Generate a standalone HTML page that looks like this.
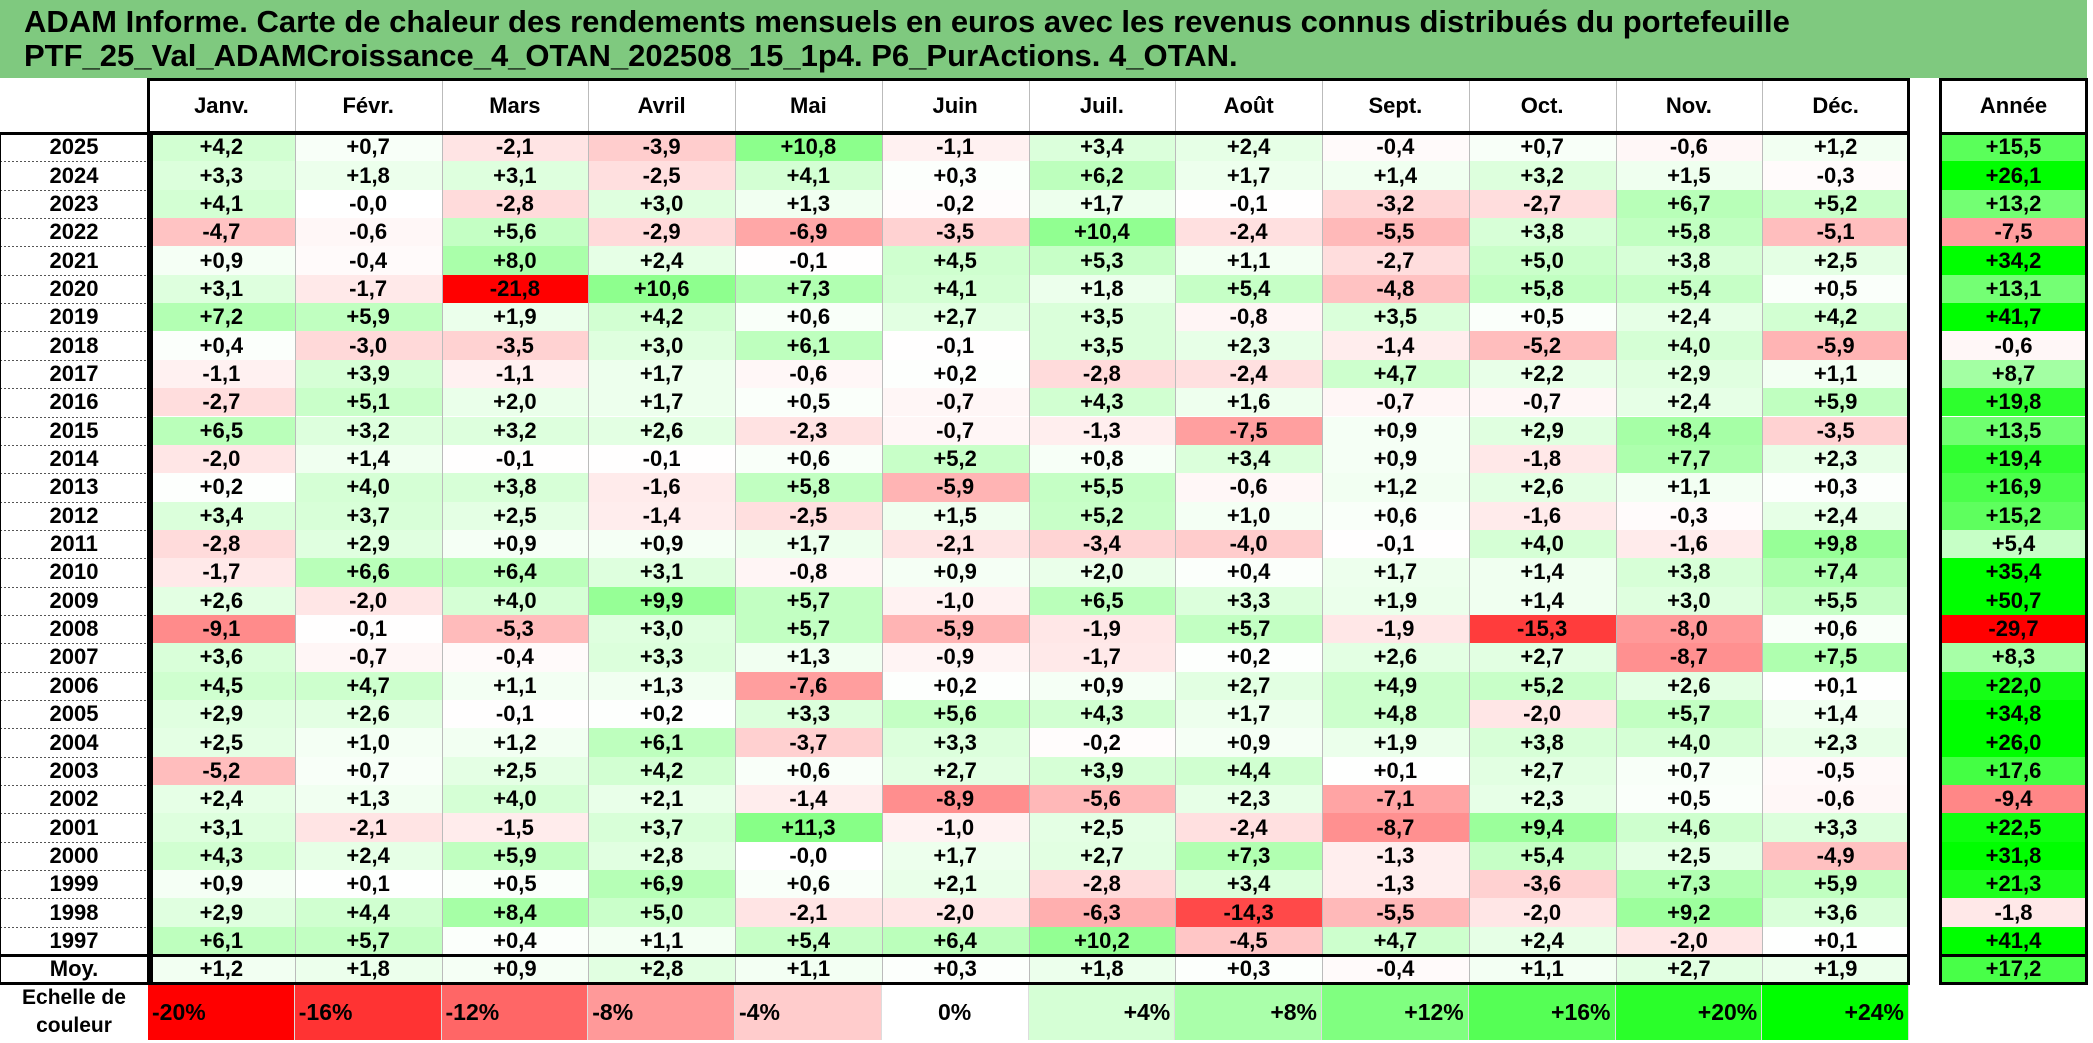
<!DOCTYPE html>
<html><head><meta charset="utf-8">
<style>
body{margin:0;width:2093px;height:1043px;background:#fff;position:relative;overflow:hidden;font-family:"Liberation Sans",sans-serif;font-weight:bold;color:#000}
.t{position:absolute;left:0;top:0;width:2087px;height:78px;background:#7fc97f;font-size:31px;line-height:34px;padding:5px 0 0 24px;box-sizing:border-box;white-space:nowrap}
.c{position:absolute;box-sizing:border-box;display:flex;align-items:center;justify-content:center;font-size:22px}
.b{position:absolute;box-sizing:border-box;border:3px solid #000;pointer-events:none}
.h{position:absolute;background:#000}
</style></head><body>
<div class="t">ADAM Informe. Carte de chaleur des rendements mensuels en euros avec les revenus connus distribués du portefeuille<br>PTF_25_Val_ADAMCroissance_4_OTAN_202508_15_1p4. P6_PurActions. 4_OTAN.</div>
<div id="g"></div>
<script>
const months=["Janv.","Févr.","Mars","Avril","Mai","Juin","Juil.","Août","Sept.","Oct.","Nov.","Déc."];
const years=["2025","2024","2023","2022","2021","2020","2019","2018","2017","2016","2015","2014","2013","2012","2011","2010","2009","2008","2007","2006","2005","2004","2003","2002","2001","2000","1999","1998","1997"];
const monthly=[
[4.2,0.7,-2.1,-3.9,10.8,-1.1,3.4,2.4,-0.4,0.7,-0.6,1.2],
[3.3,1.8,3.1,-2.5,4.1,0.3,6.2,1.7,1.4,3.2,1.5,-0.3],
[4.1,-0.0,-2.8,3.0,1.3,-0.2,1.7,-0.1,-3.2,-2.7,6.7,5.2],
[-4.7,-0.6,5.6,-2.9,-6.9,-3.5,10.4,-2.4,-5.5,3.8,5.8,-5.1],
[0.9,-0.4,8.0,2.4,-0.1,4.5,5.3,1.1,-2.7,5.0,3.8,2.5],
[3.1,-1.7,-21.8,10.6,7.3,4.1,1.8,5.4,-4.8,5.8,5.4,0.5],
[7.2,5.9,1.9,4.2,0.6,2.7,3.5,-0.8,3.5,0.5,2.4,4.2],
[0.4,-3.0,-3.5,3.0,6.1,-0.1,3.5,2.3,-1.4,-5.2,4.0,-5.9],
[-1.1,3.9,-1.1,1.7,-0.6,0.2,-2.8,-2.4,4.7,2.2,2.9,1.1],
[-2.7,5.1,2.0,1.7,0.5,-0.7,4.3,1.6,-0.7,-0.7,2.4,5.9],
[6.5,3.2,3.2,2.6,-2.3,-0.7,-1.3,-7.5,0.9,2.9,8.4,-3.5],
[-2.0,1.4,-0.1,-0.1,0.6,5.2,0.8,3.4,0.9,-1.8,7.7,2.3],
[0.2,4.0,3.8,-1.6,5.8,-5.9,5.5,-0.6,1.2,2.6,1.1,0.3],
[3.4,3.7,2.5,-1.4,-2.5,1.5,5.2,1.0,0.6,-1.6,-0.3,2.4],
[-2.8,2.9,0.9,0.9,1.7,-2.1,-3.4,-4.0,-0.1,4.0,-1.6,9.8],
[-1.7,6.6,6.4,3.1,-0.8,0.9,2.0,0.4,1.7,1.4,3.8,7.4],
[2.6,-2.0,4.0,9.9,5.7,-1.0,6.5,3.3,1.9,1.4,3.0,5.5],
[-9.1,-0.1,-5.3,3.0,5.7,-5.9,-1.9,5.7,-1.9,-15.3,-8.0,0.6],
[3.6,-0.7,-0.4,3.3,1.3,-0.9,-1.7,0.2,2.6,2.7,-8.7,7.5],
[4.5,4.7,1.1,1.3,-7.6,0.2,0.9,2.7,4.9,5.2,2.6,0.1],
[2.9,2.6,-0.1,0.2,3.3,5.6,4.3,1.7,4.8,-2.0,5.7,1.4],
[2.5,1.0,1.2,6.1,-3.7,3.3,-0.2,0.9,1.9,3.8,4.0,2.3],
[-5.2,0.7,2.5,4.2,0.6,2.7,3.9,4.4,0.1,2.7,0.7,-0.5],
[2.4,1.3,4.0,2.1,-1.4,-8.9,-5.6,2.3,-7.1,2.3,0.5,-0.6],
[3.1,-2.1,-1.5,3.7,11.3,-1.0,2.5,-2.4,-8.7,9.4,4.6,3.3],
[4.3,2.4,5.9,2.8,-0.0,1.7,2.7,7.3,-1.3,5.4,2.5,-4.9],
[0.9,0.1,0.5,6.9,0.6,2.1,-2.8,3.4,-1.3,-3.6,7.3,5.9],
[2.9,4.4,8.4,5.0,-2.1,-2.0,-6.3,-14.3,-5.5,-2.0,9.2,3.6],
[6.1,5.7,0.4,1.1,5.4,6.4,10.2,-4.5,4.7,2.4,-2.0,0.1]];
const annual=[15.5,26.1,13.2,-7.5,34.2,13.1,41.7,-0.6,8.7,19.8,13.5,19.4,16.9,15.2,5.4,35.4,50.7,-29.7,8.3,22.0,34.8,26.0,17.6,-9.4,22.5,31.8,21.3,-1.8,41.4];
const average=[1.2,1.8,0.9,2.8,1.1,0.3,1.8,0.3,-0.4,1.1,2.7,1.9];
const averageAnnual=17.2;
const scaleLabels=[-20,-16,-12,-8,-4,0,4,8,12,16,20,24];

const g=document.getElementById('g');
const X0=148,CW=146.75,YH=79,YB=133,RH=28.35,AX=1940,AW=147;
function colX(i){return X0+CW*i;}
function rowY(r){return YB+RH*r;}
function color(v){
  let t;
  if(v<0){t=Math.min(-v/20,1);const c=Math.round(255*(1-t));return `rgb(255,${c},${c})`;}
  t=Math.min(v/24,1);const c=Math.round(255*(1-t));return `rgb(${c},255,${c})`;
}
function fmt(v){const neg=v<0||Object.is(v,-0);return (neg?'-':'+')+Math.abs(v).toFixed(1).replace('.',',');}
function cell(x,y,w,h,txt,bg,name,extra){
  const d=document.createElement('div');d.className='c';
  d.style.left=x+'px';d.style.top=y+'px';d.style.width=w+'px';d.style.height=h+'px';
  if(bg)d.style.background=bg;
  d.textContent=txt;
  if(extra)Object.assign(d.style,extra);
  
  
  g.appendChild(d);return d;
}
function line(x,y,w,h,col){const d=document.createElement('div');d.className='h';d.style.left=x+'px';d.style.top=y+'px';d.style.width=w+'px';d.style.height=h+'px';if(col)d.style.background=col;


g.appendChild(d);}
months.forEach((m,i)=>cell(colX(i),YH,CW,YB-YH,m,'#fff','month-header',{fontSize:'22px'}));
cell(AX,YH,AW,YB-YH,'Année','#fff','year-total-header');
years.forEach((y,r)=>{
  cell(0,rowY(r),X0,RH,y,'#fff','year-label');
  monthly[r].forEach((v,i)=>cell(colX(i),rowY(r),CW,RH,fmt(v),color(v),'heatmap-cell'));
  cell(AX,rowY(r),AW,RH,fmt(annual[r]),color(annual[r]),'annual-cell');
  if(r>0)line(0,rowY(r),X0,1,'repeating-linear-gradient(90deg,#555 0 2px,transparent 2px 4px)');
});
const ym=rowY(years.length);
cell(0,ym,X0,RH,'Moy.','#fff','average-label');
average.forEach((v,i)=>cell(colX(i),ym,CW,RH,fmt(v),color(v),'average-cell'));
cell(AX,ym,AW,RH,fmt(averageAnnual),color(averageAnnual),'average-annual-cell');
for(let i=1;i<12;i++)line(colX(i),YH,1,ym+RH-YH,'#bbb');
const yl=ym+RH+1,LH=1040-yl;
cell(0,yl,X0,LH,'Echelle de couleur',null,'legend-title',{fontSize:'21px',textAlign:'center',lineHeight:'28px'});
scaleLabels.forEach((v,i)=>{
  const txt=(v>0?'+':'')+v+'%';
  const jc=v<0?'flex-start':(v>0?'flex-end':'center');
  cell(colX(i),yl,CW,LH,txt,color(v),'legend-swatch',{justifyContent:jc,padding:'0 4px',borderRight:'1px solid #ddd',fontSize:'23px'});
});
function box(x,y,w,h,name){const d=document.createElement('div');d.className='b';d.style.left=x+'px';d.style.top=y+'px';d.style.width=w+'px';d.style.height=h+'px';


g.appendChild(d);}
box(X0-1,YH-1,colX(12)-X0+2,YB-YH+2,'header-border');
box(-2,YB-1,colX(12)+3,ym+RH-YB+2,'table-border');
box(X0-1,YB-1,3,ym+RH-YB+2,'label-border');
box(AX-1,YH-1,AW+2,ym+RH-YH+2,'annual-border');
line(0,ym-1,colX(12),3);
line(AX,ym-1,AW,3);
line(AX,YB-1,AW,3);
</script>
</body></html>
